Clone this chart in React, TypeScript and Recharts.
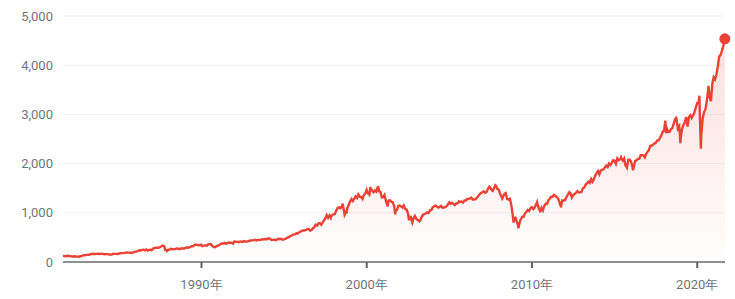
import React from 'react';
import { AreaChart, Area, XAxis, YAxis, CartesianGrid, ReferenceDot } from 'recharts';

// Month-end closes (approx.), starting Aug 1981
const closes1980s = [
  122.8, 116.2, 121.9, 126.4, 122.6,
  120.4, 113.1, 112.0, 116.4, 111.9, 109.6, 107.1, 119.5, 120.4, 133.7, 138.5, 140.6,
  145.3, 148.1, 153.0, 164.4, 162.4, 168.1, 162.6, 164.4, 166.1, 163.6, 166.4, 164.9,
  163.4, 157.1, 159.2, 160.1, 150.6, 153.2, 150.7, 166.7, 166.1, 166.1, 163.6, 167.2,
  179.6, 181.2, 180.7, 179.8, 189.6, 191.9, 190.9, 188.6, 182.1, 189.8, 202.2, 211.3,
  211.8, 226.9, 238.9, 235.5, 247.4, 250.8, 236.1, 252.9, 231.3, 244.0, 249.2, 242.2,
  274.1, 284.2, 291.7, 288.4, 290.1, 304.0, 318.7, 329.8, 321.8, 251.8, 230.3, 247.1,
  257.1, 267.8, 258.9, 261.3, 262.2, 273.5, 272.0, 261.5, 271.9, 279.0, 273.7, 277.7,
  297.5, 288.9, 294.9, 309.6, 320.5, 318.0, 346.1, 351.5, 349.2, 340.4, 346.0, 353.4,
];
// Jan 1990 onwards
const closes1990s = [
  329.1, 331.9, 339.9, 330.8, 361.2, 358.0, 356.2, 322.6, 306.1, 304.0, 322.2, 330.2,
  343.9, 367.1, 375.2, 375.3, 389.8, 371.2, 387.8, 395.4, 387.9, 392.5, 375.2, 417.1,
  408.8, 412.7, 403.7, 415.0, 415.4, 408.1, 424.2, 414.0, 417.8, 418.7, 431.4, 435.7,
  438.8, 443.4, 451.7, 440.2, 450.2, 450.5, 448.1, 463.6, 458.9, 467.8, 461.8, 466.5,
  481.6, 467.1, 445.8, 450.9, 456.5, 444.3, 458.3, 475.5, 462.7, 472.4, 453.7, 459.3,
  470.4, 487.4, 500.7, 514.7, 533.4, 544.8, 562.1, 561.9, 584.4, 581.5, 605.4, 615.9,
  636.0, 640.4, 645.5, 654.2, 669.1, 670.6, 640.0, 652.0, 687.3, 705.3, 757.0, 740.7,
  786.2, 790.8, 757.1, 801.3, 848.3, 885.1, 954.3, 899.5, 947.3, 914.6, 955.4, 970.4,
  980.3, 1049.3, 1101.8, 1111.8, 1090.8, 1133.8, 1120.7, 957.3, 1017.0, 1098.7, 1163.6, 1229.2,
  1279.6, 1238.3, 1286.4, 1335.2, 1301.8, 1372.7, 1328.7, 1320.4, 1282.7, 1362.9, 1388.9, 1469.3,
];
// Jan 2000 onwards
const closes2000s = [
  1394.5, 1366.4, 1498.6, 1452.4, 1420.6, 1454.6, 1430.8, 1517.7, 1436.5, 1429.4, 1315.2, 1320.3,
  1366.0, 1239.9, 1160.3, 1249.5, 1255.8, 1224.4, 1211.2, 1133.6, 1040.9, 1059.8, 1139.5, 1148.1,
  1130.2, 1106.7, 1147.4, 1076.9, 1067.1, 989.8, 911.6, 916.1, 815.3, 885.8, 936.3, 879.8,
  855.7, 841.2, 848.2, 916.9, 963.6, 974.5, 990.3, 1008.0, 996.0, 1050.7, 1058.2, 1111.9,
  1131.1, 1144.9, 1126.2, 1107.3, 1120.7, 1140.8, 1101.7, 1104.2, 1114.6, 1130.2, 1173.8, 1211.9,
  1181.3, 1203.6, 1180.6, 1156.9, 1191.5, 1191.3, 1234.2, 1220.3, 1228.8, 1207.0, 1249.5, 1248.3,
  1280.1, 1280.7, 1294.8, 1310.6, 1270.1, 1270.2, 1276.7, 1303.8, 1335.9, 1377.9, 1400.6, 1418.3,
  1438.2, 1406.8, 1420.9, 1482.4, 1530.6, 1503.4, 1455.3, 1474.0, 1526.8, 1549.4, 1481.1, 1468.4,
  1378.6, 1330.6, 1322.7, 1385.6, 1400.4, 1280.0, 1267.4, 1282.8, 1166.4, 968.8, 896.2, 903.3,
  825.9, 735.1, 797.9, 872.8, 919.1, 919.3, 987.5, 1020.6, 1057.1, 1036.2, 1095.6, 1115.1,
];
// Jan 2010 onwards
const closes2010s = [
  1073.9, 1104.5, 1169.4, 1186.7, 1089.4, 1030.7, 1101.6, 1049.3, 1141.2, 1183.3, 1180.6, 1257.6,
  1286.1, 1327.2, 1325.8, 1363.6, 1345.2, 1320.6, 1292.3, 1218.9, 1131.4, 1253.3, 1247.0, 1257.6,
  1312.4, 1365.7, 1408.5, 1397.9, 1310.3, 1362.2, 1379.3, 1406.6, 1440.7, 1412.2, 1416.2, 1426.2,
  1498.1, 1514.7, 1569.2, 1597.6, 1630.7, 1606.3, 1685.7, 1633.0, 1681.6, 1756.5, 1805.8, 1848.4,
  1782.6, 1859.5, 1872.3, 1884.0, 1923.6, 1960.2, 1930.7, 2003.4, 1972.3, 2018.1, 2067.6, 2058.9,
  1995.0, 2104.5, 2067.9, 2085.5, 2107.4, 2063.1, 2103.8, 1972.2, 1920.0, 2079.4, 2080.4, 2043.9,
  1940.2, 1932.2, 2059.7, 2065.3, 2097.0, 2098.9, 2173.6, 2171.0, 2168.3, 2126.2, 2198.8, 2238.8,
  2278.9, 2363.6, 2362.7, 2384.2, 2411.8, 2423.4, 2470.3, 2471.7, 2519.4, 2575.3, 2647.6, 2673.6,
  2823.8, 2713.8, 2640.9, 2648.1, 2705.3, 2718.4, 2816.3, 2901.5, 2914.0, 2711.7, 2760.2, 2506.9,
  2704.1, 2784.5, 2834.4, 2945.8, 2752.1, 2941.8, 2980.4, 2926.5, 2976.7, 3037.6, 3141.0, 3230.8,
];
// Jan 2020 onwards
const closes2020s = [
  3225.5, 2954.2, 2584.6, 2912.4, 3044.3, 3100.3, 3271.1, 3500.3, 3363.0, 3270.0, 3621.6, 3756.1,
  3714.2, 3811.2, 3972.9, 4181.2, 4204.1, 4297.5, 4395.3,
];

// Intra-month weekly extremes: [decimal year, value]
const extremes: [number, number][] = [
  [1981.62, 132.0],
  [1982.61, 103.0],
  [1987.65, 333.0],
  [1987.8, 248.0],
  [1987.92, 224.0],
  [1990.04, 325.0],
  [1990.54, 367.0],
  [1990.78, 300.0],
  [1994.1, 481.0],
  [1997.82, 900.0],
  [1998.55, 1186.0],
  [1998.77, 984.0],
  [2000.23, 1527.0],
  [2000.7, 1520.0],
  [2001.26, 1128.0],
  [2001.72, 966.0],
  [2002.56, 848.0],
  [2002.76, 800.0],
  [2003.19, 828.0],
  [2007.62, 1445.0],
  [2007.78, 1561.0],
  [2008.2, 1293.0],
  [2008.89, 800.0],
  [2009.18, 683.0],
  [2010.31, 1217.0],
  [2010.51, 1030.0],
  [2011.76, 1131.0],
  [2012.26, 1419.0],
  [2015.39, 2127.0],
  [2015.65, 1971.0],
  [2016.11, 1865.0],
  [2018.07, 2873.0],
  [2018.11, 2620.0],
  [2018.72, 2930.0],
  [2018.98, 2417.0],
  [2020.13, 3380.0],
  [2020.22, 2305.0],
  [2020.68, 3580.0],
  [2021.6, 4437.0],
  [2021.67, 4537.0],
];

const yTicks = [0, 1000, 2000, 3000, 4000, 5000];
const xTicks = [1990, 2000, 2010, 2020];

function monthly(startYear: number, startMonth: number, values: number[]) {
  return values.map((v, i) => {
    const m = startMonth - 1 + i;
    const year = startYear + Math.floor(m / 12);
    const month = (m % 12) + 1;
    return { t: year + month / 12 - 0.005, v };
  });
}

const data = [
  ...monthly(1981, 8, closes1980s),
  ...monthly(1990, 1, closes1990s),
  ...monthly(2000, 1, closes2000s),
  ...monthly(2010, 1, closes2010s),
  ...monthly(2020, 1, closes2020s),
  ...extremes.map(([t, v]) => ({ t, v })),
].sort((a, b) => a.t - b.t);

const last = data[data.length - 1];

const RED = '#ea4335';
const TEXT = '#70757a';
const FONT = 'Roboto, Arial, sans-serif';

export default function App() {
  return (
    <div style={{ position: 'absolute', left: 0, top: 0, width: 735, height: 299, background: '#fff' }}>
      <AreaChart
        width={735}
        height={299}
        data={data}
        margin={{ top: 16, right: 10, left: 0, bottom: 7 }}
      >
        <defs>
          <linearGradient id="fillGrad" x1="0" y1="0" x2="0" y2="1">
            <stop offset="0%" stopColor={RED} stopOpacity={0.28} />
            <stop offset="100%" stopColor={RED} stopOpacity={0.01} />
          </linearGradient>
        </defs>
        <CartesianGrid vertical={false} stroke="#f1f1f1" strokeWidth={1} />
        <XAxis
          dataKey="t"
          type="number"
          domain={[1981.62, 2021.68]}
          ticks={xTicks}
          tickFormatter={(v: number) => `${v}年`}
          allowDataOverflow
          height={30}
          axisLine={{ stroke: '#6a6e73', strokeWidth: 1.5 }}
          tickLine={{ stroke: '#5f6368', strokeWidth: 2 }}
          tickSize={6}
          tickMargin={12}
          tick={{ fill: TEXT, fontSize: 13, fontFamily: FONT }}
        />
        <YAxis
          width={63}
          domain={[0, 5000]}
          ticks={yTicks}
          axisLine={false}
          tickLine={false}
          tickMargin={4}
          tickFormatter={(v: number) => v.toLocaleString('en-US')}
          tick={{ fill: TEXT, fontSize: 13, fontFamily: FONT }}
        />
        <Area
          type="linear"
          dataKey="v"
          stroke={RED}
          strokeWidth={2.4}
          fill="url(#fillGrad)"
          isAnimationActive={false}
          dot={false}
          activeDot={false}
        />
        <ReferenceDot x={last.t} y={last.v} r={5.5} fill={RED} stroke="none" />
      </AreaChart>
    </div>
  );
}
